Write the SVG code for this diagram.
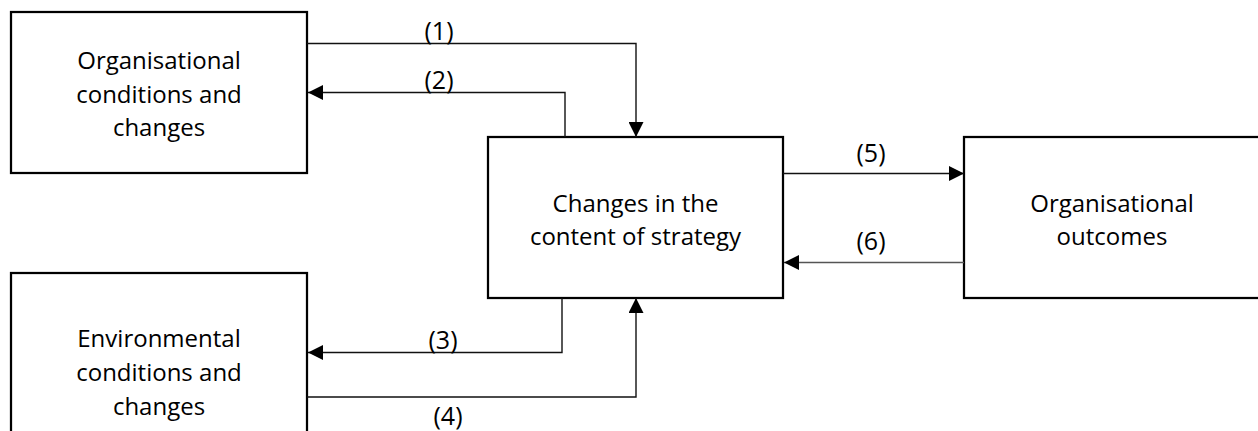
<svg xmlns="http://www.w3.org/2000/svg" width="1258" height="431" viewBox="0 0 1258 431">
<style>
.box{fill:#fff;stroke:#000;stroke-width:2.25}
.t{font-family:"Open Sans","Liberation Sans",sans-serif;font-size:24px;fill:#000;text-anchor:middle}
.lbl{font-family:"Open Sans","Liberation Sans",sans-serif;font-size:25px;fill:#000;text-anchor:middle}
.c{fill:none;stroke:#111;stroke-width:1.4;marker-end:url(#ah)}
</style>
<defs>
<marker id="ah" markerUnits="userSpaceOnUse" markerWidth="15" markerHeight="15" refX="15" refY="7.5" orient="auto">
<path d="M0,0 L15,7.5 L0,15 Z" fill="#000"/>
</marker>
</defs>
<rect width="1258" height="431" fill="#fff"/>
<g id="org-conditions">
<rect class="box" x="11" y="12" width="296" height="161"/>
<text class="t" x="159" y="69">Organisational</text>
<text class="t" x="159" y="102.5">conditions and</text>
<text class="t" x="159" y="136">changes</text>
</g>
<g id="env-conditions">
<rect class="box" x="11" y="273" width="296" height="170"/>
<text class="t" x="159" y="347">Environmental</text>
<text class="t" x="159" y="381">conditions and</text>
<text class="t" x="159" y="414.5">changes</text>
</g>
<g id="strategy">
<rect class="box" x="488" y="137" width="295" height="161"/>
<text class="t" x="635.5" y="211.5">Changes in the</text>
<text class="t" x="635.5" y="245">content of strategy</text>
</g>
<g id="outcomes">
<rect class="box" x="964" y="137" width="300" height="161"/>
<text class="t" x="1112" y="211.5">Organisational</text>
<text class="t" x="1112" y="245">outcomes</text>
</g>
<g id="connectors">
<path class="c" d="M307,43.5 H636 V137"/>
<path class="c" d="M565,137 V92.5 H308"/>
<path class="c" d="M562,298 V352.5 H308"/>
<path class="c" d="M307,397 H636 V298"/>
<path class="c" d="M783,173.5 H964"/>
<path class="c" d="M964,262.5 H784" style="stroke:#555"/>
<text class="lbl" x="439" y="40">(1)</text>
<text class="lbl" x="439" y="88.5">(2)</text>
<text class="lbl" x="443" y="349">(3)</text>
<text class="lbl" x="448" y="425">(4)</text>
<text class="lbl" x="871" y="161.5">(5)</text>
<text class="lbl" x="871" y="250">(6)</text>
</g>
</svg>
